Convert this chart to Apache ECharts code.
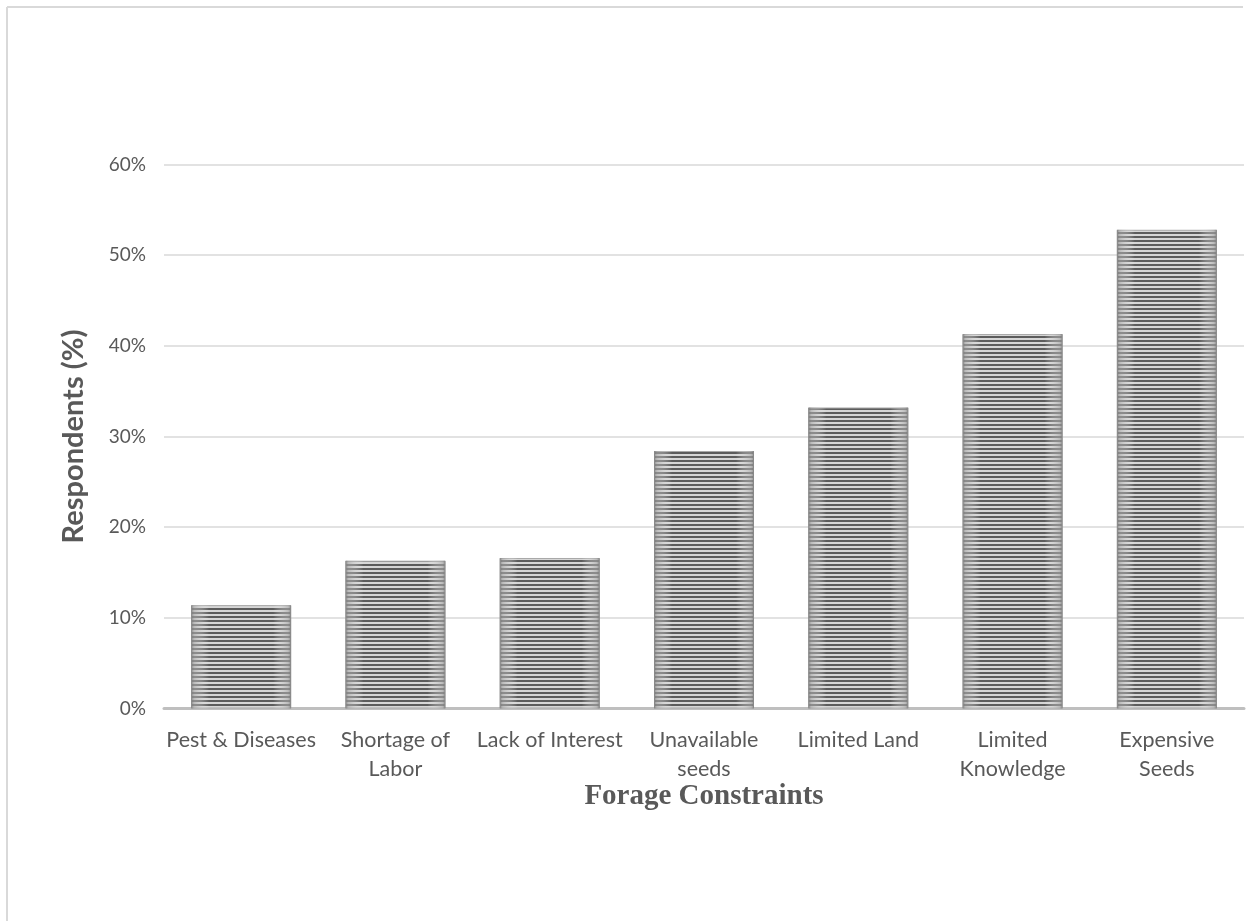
<!DOCTYPE html>
<html>
<head>
<meta charset="utf-8">
<script src="https://cdn.jsdelivr.net/npm/echarts@6/dist/echarts.min.js"></script>
<style>
  html, body { margin: 0; padding: 0; background: #fff; }
  #chart { width: 1253px; height: 921px; }
</style>
</head>
<body>
<div id="chart"></div>
<script>
// Forage constraints reported by respondents (percent)
const categories = ['Pest & Diseases', 'Shortage of\nLabor', 'Lack of Interest', 'Unavailable\nseeds', 'Limited Land', 'Limited\nKnowledge', 'Expensive\nSeeds'];
const respondentsPct = [11.4, 16.3, 16.6, 28.4, 33.2, 41.3, 52.8];
const yTicks = [0, 10, 20, 30, 40, 50, 60];
const xTitle = 'Forage Constraints';
const yTitle = 'Respondents (%)';

// Horizontal stripe fill for the bars
function stripeCanvas() {
  const c = document.createElement('canvas');
  c.width = 4; c.height = 4;
  const ctx = c.getContext('2d');
  ctx.fillStyle = '#d6d6d6';
  ctx.fillRect(0, 0, 4, 4);
  ctx.fillStyle = '#5c5c5c';
  ctx.fillRect(0, 0, 4, 2);
  return c;
}

const chart = echarts.init(document.getElementById('chart'), null, { renderer: 'canvas' });
const labelFont = 'Lato, "Open Sans", sans-serif';

chart.setOption({
  backgroundColor: '#ffffff',
  animation: false,
  grid: { left: 164, right: 9, top: 164.5, bottom: 212.5, containLabel: false },
  xAxis: {
    type: 'category',
    data: categories,
    axisLine: { show: true, lineStyle: { color: '#bfbfbf', width: 3 } },
    axisTick: { show: false },
    axisLabel: {
      color: '#595959', fontSize: 21.5, fontFamily: labelFont,
      lineHeight: 29, margin: 17, interval: 0
    }
  },
  yAxis: {
    type: 'value',
    min: yTicks[0],
    max: yTicks[yTicks.length - 1],
    interval: 10,
    axisLine: { show: false },
    axisTick: { show: false },
    splitLine: { lineStyle: { color: '#d9d9d9', width: 1.5 } },
    axisLabel: {
      color: '#595959', fontSize: 19, fontFamily: labelFont, margin: 18,
      formatter: v => v + '%'
    }
  },
  series: [
    {
      type: 'bar',
      data: respondentsPct,
      barWidth: 100,
      itemStyle: {
        color: { image: stripeCanvas(), repeat: 'repeat' },
        borderColor: '#a8a8a8',
        borderWidth: 1
      }
    },
    {
      // soft shading toward the left and right edges of each bar
      type: 'bar',
      data: respondentsPct,
      barWidth: 100,
      barGap: '-100%',
      silent: true,
      itemStyle: {
        color: {
          type: 'linear', x: 0, y: 0, x2: 1, y2: 0,
          colorStops: [
            { offset: 0, color: 'rgba(120,120,120,0.85)' },
            { offset: 0.03, color: 'rgba(170,170,170,0.6)' },
            { offset: 0.1, color: 'rgba(210,210,210,0.35)' },
            { offset: 0.18, color: 'rgba(255,255,255,0)' },
            { offset: 0.82, color: 'rgba(255,255,255,0)' },
            { offset: 0.9, color: 'rgba(210,210,210,0.35)' },
            { offset: 0.97, color: 'rgba(170,170,170,0.6)' },
            { offset: 1, color: 'rgba(120,120,120,0.85)' }
          ]
        }
      }
    }
  ],
  graphic: [
    // chart-area frame (top and left edges)
    { type: 'line', shape: { x1: 7, y1: 7, x2: 1243, y2: 7 }, style: { stroke: '#d9d9d9', lineWidth: 2 } },
    { type: 'line', shape: { x1: 7, y1: 7, x2: 7, y2: 921 }, style: { stroke: '#d9d9d9', lineWidth: 2 } },
    // axis titles
    {
      type: 'text', x: 704, y: 797,
      style: {
        text: xTitle, fill: '#595959', align: 'center', verticalAlign: 'middle',
        font: 'bold 29px "Liberation Serif", "Times New Roman", serif'
      }
    },
    {
      type: 'text', x: 74, y: 436.5, rotation: Math.PI / 2,
      style: {
        text: yTitle, fill: '#595959', align: 'center', verticalAlign: 'middle',
        font: 'bold 29px Lato, "Open Sans", sans-serif'
      }
    }
  ]
});
</script>
</body>
</html>
